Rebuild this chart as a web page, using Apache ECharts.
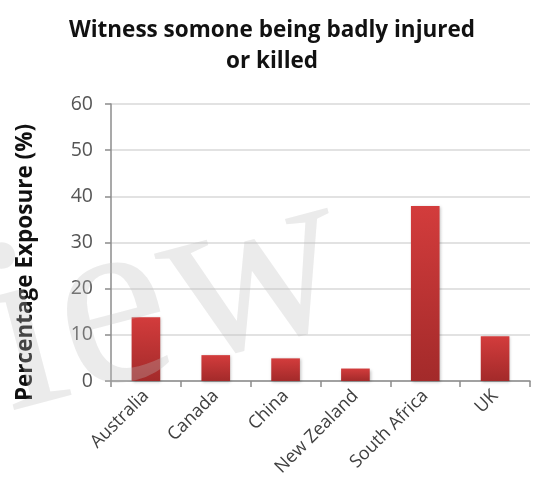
<!DOCTYPE html>
<html>
<head>
<meta charset="utf-8">
<script src="https://cdn.jsdelivr.net/npm/echarts@6/dist/echarts.min.js"></script>
<style>html,body{margin:0;padding:0;background:#fff}#c{width:534px;height:495px}</style>
</head>
<body>
<div id="c"></div>
<script>
const titleText = 'Witness somone being badly injured\nor killed';
const yAxisName = 'Percentage Exposure (%)';
const categories = ['Australia', 'Canada', 'China', 'New Zealand', 'South Africa', 'UK'];
const exposure = [13.8, 5.6, 4.9, 2.7, 37.9, 9.7];
const yTicks = [0, 10, 20, 30, 40, 50, 60];

const chart = echarts.init(document.getElementById('c'), null, {renderer: 'canvas'});
chart.setOption({
  animation: false,
  backgroundColor: '#fff',
  title: {
    text: titleText,
    left: 267, top: 10, textAlign: 'center',
    textStyle: {fontFamily: 'Open Sans', fontWeight: 'bold', fontSize: 22.5, color: '#111', lineHeight: 31}
  },
  graphic: [{
    type: 'text', x: -40, y: 227, rotation: 0.26, z: 100, silent: true,
    style: {text: 'iew', font: '250px "Liberation Serif"', fill: 'rgba(190,190,190,0.3)'}
  }],
  grid: {left: 111, right: 4, top: 104, bottom: 114},
  xAxis: {
    type: 'category', data: categories,
    axisLine: {lineStyle: {color: '#8c8c8c', width: 1.5}},
    axisTick: {show: true, length: 6, alignWithLabel: false, lineStyle: {color: '#8c8c8c', width: 1.5}},
    axisLabel: {rotate: 45, color: '#404040', fontFamily: 'Open Sans', fontSize: 18, margin: 12, interval: 0}
  },
  yAxis: {
    type: 'value', min: yTicks[0], max: yTicks[yTicks.length - 1], interval: 10,
    name: yAxisName, nameLocation: 'middle', nameGap: 74, nameRotate: 90,
    nameTextStyle: {fontFamily: 'Open Sans', fontWeight: 'bold', fontSize: 22.5, color: '#111', padding: [0, 40, 0, 0]},
    axisLine: {show: true, lineStyle: {color: '#8c8c8c', width: 1.5}},
    axisTick: {show: true, length: 6, lineStyle: {color: '#8c8c8c', width: 1.5}},
    axisLabel: {color: '#555', fontFamily: 'Open Sans', fontSize: 19.5, margin: 18},
    splitLine: {lineStyle: {color: '#d9d9d9', width: 1.5}}
  },
  series: [{
    type: 'bar', data: exposure, barWidth: '41%',
    itemStyle: {
      color: new echarts.graphic.LinearGradient(0, 0, 0, 1, [
        {offset: 0, color: '#d33c3c'}, {offset: 1, color: '#a32a2a'}
      ]),
      shadowColor: 'rgba(0,0,0,0.25)', shadowBlur: 3, shadowOffsetX: 1, shadowOffsetY: 1
    }
  }]
});
</script>
</body>
</html>
